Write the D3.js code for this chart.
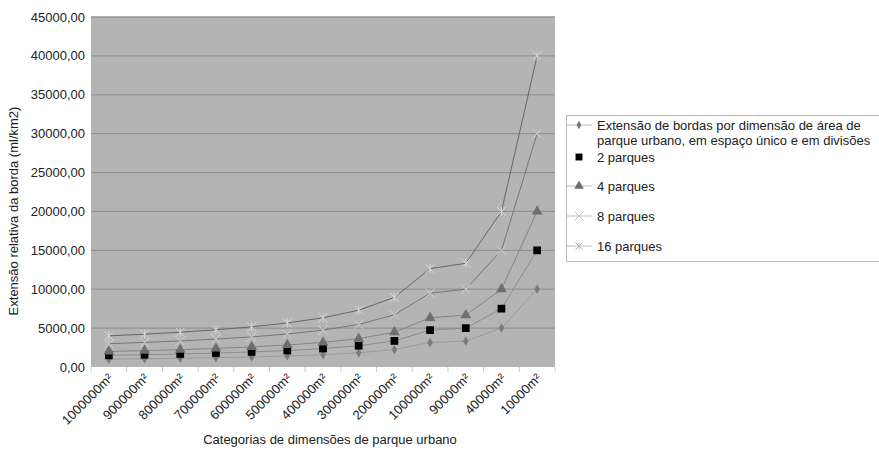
<!DOCTYPE html>
<html lang="pt">
<head>
<meta charset="utf-8">
<title>Extensão de bordas</title>
<script type="text/javascript" src="https://d3js.org/d3.v7.min.js"></script>
<style>
body { margin: 0; background: #fff; }
svg text { font-family: "Liberation Sans", Arial, sans-serif; fill: #222; }
.grid line { stroke: #939393; stroke-width: 1.3; }
.tick-label { font-size: 13px; }
.legend text { font-size: 13px; }
</style>
</head>
<body>
<div id="chart"></div>
<script type="text/javascript">

var categories = ["1000000m²", "900000m²", "800000m²", "700000m²", "600000m²", "500000m²",
    "400000m²", "300000m²", "200000m²", "100000m²", "90000m²", "40000m²", "10000m²"];

var single = [1000, 1054, 1118, 1195, 1291, 1414, 1581, 1826, 2236, 3162, 3333, 5000, 10000];
var parks2 = [1500, 1581, 1677, 1793, 1936, 2121, 2372, 2739, 3354, 4743, 5000, 7500, 15000];
var parks4 = [2000, 2108, 2236, 2390, 2582, 2828, 3162, 3651, 4472, 6325, 6667, 10000, 20000];
var parks8 = [3000, 3162, 3354, 3586, 3873, 4243, 4743, 5477, 6708, 9487, 10000, 15000, 30000];
var parks16 = [4000, 4216, 4472, 4781, 5164, 5657, 6325, 7303, 8944, 12649, 13333, 20000, 40000];

var yTicks = [0, 5000, 10000, 15000, 20000, 25000, 30000, 35000, 40000, 45000];

var seriesNames = [
    ["Extensão de bordas por dimensão de área de", "parque urbano, em espaço único e em divisões"],
    ["2 parques"], ["4 parques"], ["8 parques"], ["16 parques"]
];

var series = [
    {values: single, symbol: d3.symbolDiamond, size: 26, fill: "#7a7a7a", stroke: "none", line: "#9a9a9a"},
    {values: parks2, symbol: d3.symbolSquare, size: 60, fill: "#000", stroke: "none", line: "#8c8c8c"},
    {values: parks4, symbol: d3.symbolTriangle, size: 50, fill: "#6e6e6e", stroke: "none", line: "#858585"},
    {values: parks8, symbol: d3.symbolX, size: 60, fill: "none", stroke: "#d2d2d2", line: "#767676"},
    {values: parks16, symbol: "asterisk", size: 9, fill: "none", stroke: "#d8d8d8", line: "#666"}
];

var width = 879, height = 451;
var margin = {top: 17, left: 91, right: 324, bottom: 84};

var svg = d3.select("#chart").append("svg")
    .attr("width", width)
    .attr("height", height);

var x = d3.scaleBand().domain(categories).range([margin.left, width - margin.right]);
var y = d3.scaleLinear().domain([0, 45000]).range([height - margin.bottom, margin.top]);

// plot area
svg.append("rect")
    .attr("x", margin.left).attr("y", margin.top)
    .attr("width", x.range()[1] - margin.left)
    .attr("height", y(0) - margin.top)
    .attr("fill", "#b4b4b4");

svg.append("g").attr("class", "grid")
    .selectAll("line").data(yTicks.slice(1))
    .enter().append("line")
        .attr("x1", margin.left).attr("x2", x.range()[1])
        .attr("y1", function(d) { return y(d); })
        .attr("y2", function(d) { return y(d); });

// y axis labels
svg.append("g").selectAll("text").data(yTicks)
    .enter().append("text")
        .attr("class", "tick-label")
        .attr("x", margin.left - 6)
        .attr("y", function(d) { return y(d) + 4.5; })
        .attr("text-anchor", "end")
        .text(function(d) { return d3.format(".2f")(d).replace(".", ","); });

// x axis ticks and labels
var bounds = categories.map(function(c) { return x(c); }).concat([x.range()[1]]);
svg.append("g").selectAll("line").data(bounds)
    .enter().append("line")
        .attr("x1", function(d) { return d; }).attr("x2", function(d) { return d; })
        .attr("y1", y(0)).attr("y2", y(0) + 5)
        .attr("stroke", "#c8c8c8");

svg.append("g").selectAll("text").data(categories)
    .enter().append("text")
        .attr("class", "tick-label")
        .attr("text-anchor", "end")
        .attr("transform", function(d) {
            return "translate(" + (x(d) + x.bandwidth() / 2 + 5) + "," + (y(0) + 12) + ") rotate(-45)";
        })
        .text(function(d) { return d; });

svg.append("text")
    .attr("x", 330)
    .attr("y", 444)
    .attr("text-anchor", "middle")
    .style("font-size", "13px")
    .text("Categorias de dimensões de parque urbano");

svg.append("text")
    .attr("transform", "translate(18,211) rotate(-90)")
    .attr("text-anchor", "middle")
    .style("font-size", "13px")
    .text("Extensão relativa da borda (ml/km2)");

var line = d3.line()
    .x(function(d, i) { return x(categories[i]) + x.bandwidth() / 2; })
    .y(function(d) { return y(d); });

function drawMarker(g, s, scale) {
    if (s.symbol === "asterisk") {
        var r = s.size * (scale || 1) / 2;
        g.append("path")
            .attr("d", "M" + (-r) + "," + (-r) + "L" + r + "," + r + "M" + (-r) + "," + r + "L" + r + "," + (-r) +
                "M0," + (-r) + "L0," + r)
            .attr("fill", "none")
            .attr("stroke", s.stroke)
            .attr("stroke-width", 1);
    } else {
        g.append("path")
            .attr("d", d3.symbol().type(s.symbol).size(s.size * (scale || 1))())
            .attr("fill", s.fill)
            .attr("stroke", s.stroke)
            .attr("stroke-width", 1);
    }
}

series.forEach(function(s) {
    svg.append("path")
        .datum(s.values)
        .attr("d", line)
        .attr("fill", "none")
        .attr("stroke", s.line)
        .attr("stroke-width", 1);
});

series.forEach(function(s) {
    s.values.forEach(function(v, i) {
        var g = svg.append("g")
            .attr("transform", "translate(" + (x(categories[i]) + x.bandwidth() / 2) + "," + y(v) + ")");
        drawMarker(g, s);
    });
});

// legend
var legend = svg.append("g").attr("class", "legend");
legend.append("rect")
    .attr("x", 566.5).attr("y", 115.5)
    .attr("width", 320).attr("height", 146)
    .attr("fill", "#fff")
    .attr("stroke", "#bbb");

var legendY = [125, 157, 186, 216, 246];
series.forEach(function(s, i) {
    var ly = legendY[i];
    var lg = legend.append("g");
    if (i !== 1) {
        lg.append("line")
            .attr("x1", 567).attr("x2", 592)
            .attr("y1", ly).attr("y2", ly)
            .attr("stroke", "#bdbdbd");
    }
    var m = lg.append("g").attr("transform", "translate(579," + ly + ")");
    drawMarker(m, i >= 3 ? {symbol: s.symbol, size: s.size, fill: s.fill, stroke: "#bcbcbc"} : s, 0.8);
    seriesNames[i].forEach(function(t, k) {
        lg.append("text")
            .attr("x", 597)
            .attr("y", ly + 4.5 + k * 15)
            .text(t);
    });
});

</script>
</body>
</html>
